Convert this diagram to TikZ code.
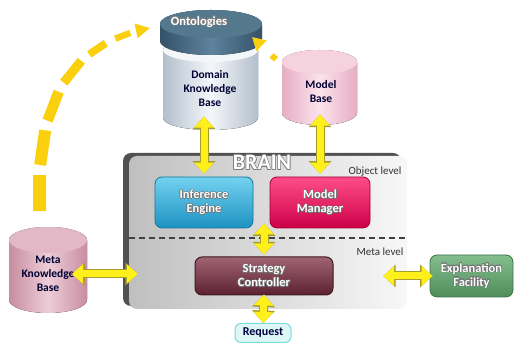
\documentclass[tikz,border=0pt]{standalone}
\usepackage{fontspec}
\setmainfont{Carlito}
\usepackage[copies]{contour}
\contourlength{0.5pt}
\usetikzlibrary{arrows.meta,shadows,decorations.markings}

\definecolor{linkyellow}{HTML}{FFEF1A}
\definecolor{linkedge}{HTML}{A89C2A}
\definecolor{arcyellow}{HTML}{F9CF0E}
\definecolor{dkbedge}{HTML}{B3BFCC}
\definecolor{dkbmid}{HTML}{F4F7FA}
\definecolor{ontedge}{HTML}{34526A}
\definecolor{ontmid}{HTML}{5E839C}
\definecolor{onttop}{HTML}{54798F}
\definecolor{mbedge}{HTML}{E6AEC3}
\definecolor{mbmid}{HTML}{FBE3EC}
\definecolor{mbtop}{HTML}{F6D2DF}
\definecolor{mkbedge}{HTML}{C78DA1}
\definecolor{mkbmid}{HTML}{EDCDD8}
\definecolor{mkbtop}{HTML}{E2B8C6}
\definecolor{iehi}{HTML}{74D2F0}
\definecolor{ielo}{HTML}{1C92C2}
\definecolor{mmhi}{HTML}{FF4D88}
\definecolor{mmlo}{HTML}{CC0048}
\definecolor{schi}{HTML}{A06372}
\definecolor{sclo}{HTML}{5C2232}
\definecolor{efhi}{HTML}{84BE8E}
\definecolor{eflo}{HTML}{4F8C5C}
\definecolor{reqfill}{HTML}{DDF7F7}
\definecolor{reqline}{HTML}{80D8D8}

% drum: centre x, top y, bottom y, x radius, y radius, edge, middle, lid
\newcommand{\drum}[8]{%
  \fill[left color=#6, right color=#6, middle color=#7]
    (#1-#4,#2) -- (#1-#4,#3) arc[start angle=180, end angle=360, x radius=#4, y radius=#5]
    -- (#1+#4,#2) arc[start angle=0, end angle=180, x radius=#4, y radius=#5] -- cycle;
  \fill[#8] (#1,#2) ellipse[x radius=#4, y radius=#5];
}
\newcommand{\outl}[1]{\contour{black!55}{#1}}

\begin{document}
\begin{tikzpicture}[x=1pt, y=1pt,
  cyltext/.style={font=\fontsize{11.5}{14}\selectfont\bfseries, text=black!80!blue, align=center},
  unit/.style={rounded corners=7, line width=0.8pt, align=center, text=white,
    font=\fontsize{12.5}{14}\selectfont\bfseries},
  panel/.style={rounded corners=8, left color=black!25, right color=black!3,
    drop shadow={shadow xshift=-6pt, shadow yshift=3pt, fill=black!80, opacity=0.85}},
  level/.style={font=\fontsize{11}{13}\selectfont, text=black!80},
  link/.style={draw=linkyellow, line width=7pt,
    {Triangle[length=11pt,width=19pt]}-{Triangle[length=11pt,width=19pt]},
    preaction={draw=linkedge, line width=9pt,
      {Triangle[length=12.5pt,width=22pt]}-{Triangle[length=12.5pt,width=22pt]}}}]

\useasboundingbox (0,0) rectangle (515,344);

% the BRAIN panel
\node[panel, minimum width=278, minimum height=153] (brain) at (268,111.5) {};
\node[font=\fontsize{22}{24}\selectfont\bfseries, text=white] (brainname) at (262,181) {\contour{black!50}{BRAIN}};
\node[level] (objlevel) at (375,172) {Object level};
\node[level] (metalevel) at (380,92) {Meta level};
\draw[black!75, line width=1.2pt, dash pattern=on 6pt off 4pt] ([yshift=-5.5]brain.west) -- ([yshift=-5.5]brain.east);

% knowledge bases
\drum{210.5}{294}{226}{47.5}{12}{dkbedge}{dkbmid}{dkbmid}
\drum{211}{320}{303}{51}{14}{ontedge}{ontmid}{onttop}
\drum{319.5}{282}{231}{37.5}{12}{mbedge}{mbmid}{mbtop}
\drum{48}{104}{44}{39}{13}{mkbedge}{mkbmid}{mkbtop}

\node[cyltext] (dkb) at (210,255) {Domain\\Knowledge\\Base};
\node[font=\fontsize{12.5}{14}\selectfont\bfseries, text=white] (ont) at (199,322) {\contour{black!50}{Ontologies}};
\node[cyltext] (mb) at (321,252) {Model\\Base};
\node[cyltext] (mkb) at (48,70) {Meta\\Knowledge\\Base};

% modules
\node[unit, top color=iehi, bottom color=ielo, draw=ielo!80!black, minimum width=98, minimum height=51] (ie) at (204,141.5) {\outl{Inference}\\\outl{Engine}};
\node[unit, top color=mmhi, bottom color=mmlo, draw=mmlo!80!black, minimum width=100, minimum height=51] (mm) at (320,141.5) {\outl{Model}\\\outl{Manager}};
\node[unit, top color=schi, bottom color=sclo, draw=sclo!70!black, line width=1pt, minimum width=138, minimum height=38] (sc) at (264,68) {\outl{Strategy}\\\outl{Controller}};
\node[unit, top color=efhi, bottom color=eflo, draw=eflo!80!black, minimum width=83, minimum height=42] (ef) at (471.5,68) {\outl{Explanation}\\\outl{Facility}};
\node[rounded corners=6, fill=reqfill, draw=reqline, line width=1pt, minimum width=56, minimum height=19, inner sep=2pt,
  font=\fontsize{12}{13}\selectfont\bfseries, text=black!75!blue] (req) at (263,11) {Request};

% links
\draw[link, shorten <=6, shorten >=3] (ie.north |- dkb.south) -- (ie.north);
\draw[link, shorten <=8, shorten >=3] (mm.north |- mb.south) -- (mm.north);
\draw[link, shorten <=-5, shorten >=2] (sc.north |- ie.south) -- (sc.north);
\draw[link, shorten <=-1, shorten >=0] (sc.south) -- (req.north);
\draw[link, shorten <=-6, shorten >=-9] (mkb.east) -- (mkb.east -| brain.west);
\draw[link, shorten <=-24, shorten >=-3] (ef.west -| brain.east) -- (ef.west);

% dashed arcs towards the ontologies
\foreach \p/\l/\w in {0.074/18/6.5, 0.267/17.5/6, 0.448/15.5/5.3, 0.616/14/4.6, 0.760/10/3.8, 0.880/8/3.2}
  \path[decorate, decoration={markings, mark=at position \p with {\fill[arcyellow] (-\l,-\w) rectangle (\l,\w);}}]
    ([shift={(-8,42)}]mkb.north) .. controls (36,234) and (65,299) .. (150,316);
\path[decorate, decoration={markings, mark=at position 0.995 with {\fill[arcyellow] (1,0) -- (-13,7.5) -- (-13,-7.5) -- cycle;}}]
  ([shift={(-8,42)}]mkb.north) .. controls (36,234) and (65,299) .. (150,316);
\draw[arcyellow, line width=6pt, dash pattern=on 6pt off 20pt, -{Triangle[length=13pt,width=14pt]}]
  ([shift={(-45,18)}]mb.north) -- (252,307);
\end{tikzpicture}
\end{document}
